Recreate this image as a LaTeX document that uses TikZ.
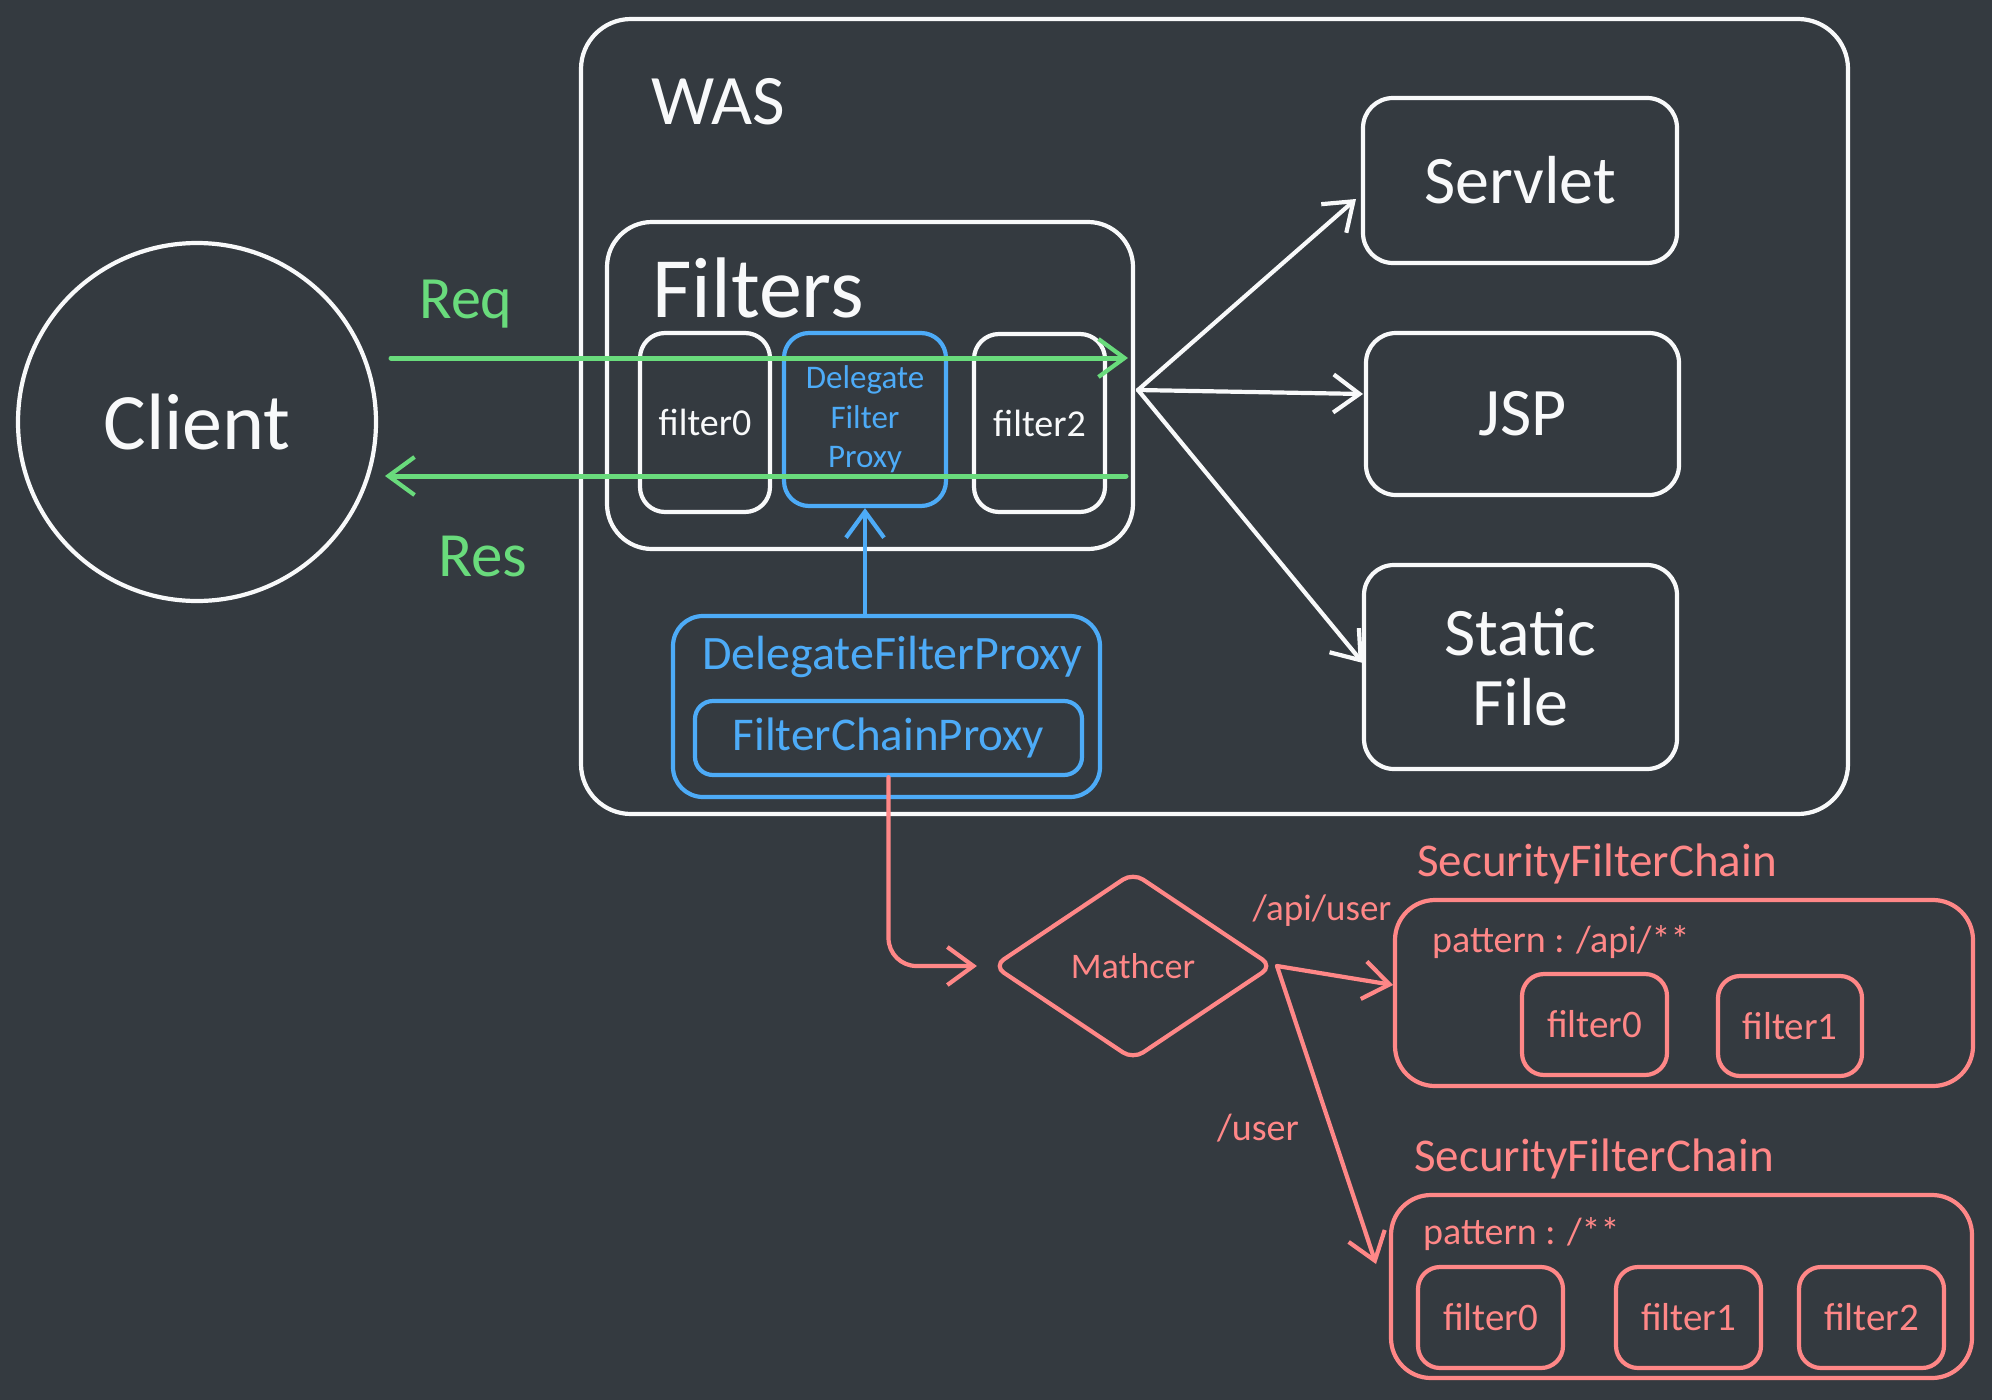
\documentclass[tikz,border=0pt]{standalone}
\usepackage{fontspec}
\setmainfont{Carlito}
\usetikzlibrary{arrows.meta,shapes.geometric,calc}
\definecolor{bgc}{HTML}{343A40}
\definecolor{gr}{HTML}{69DB7C}
\definecolor{bl}{HTML}{4DABF7}
\definecolor{rd}{HTML}{FF8787}
\definecolor{wh}{HTML}{F8F9FA}
\begin{document}
\begin{tikzpicture}[x=1pt,y=-1pt,
  box/.style={draw=#1, line width=4.2pt, rounded corners=28pt, inner sep=0pt, text=#1, align=center},
  lbl/.style={inner sep=0pt, text=#1},
  arr/.style={line width=4.2pt, line cap=round, -{Straight Barb[length=26pt,width=38pt,line width=4.2pt]}},
]
\fill[bgc] (0,0) rectangle (1992,1400);
\useasboundingbox (0,0) rectangle (1992,1400);

% client
\node[circle, draw=wh, line width=4.2pt, minimum size=358pt, inner sep=0pt, text=wh,
  font=\fontsize{80pt}{96pt}\selectfont] (client) at (197,422) {Client};

% WAS
\node[box=wh, rounded corners=50pt, minimum width=1267pt, minimum height=795pt] (was) at (1214.5,416.5) {};
\node[lbl=wh, anchor=west, font=\fontsize{71pt}{85pt}\selectfont] (waslbl) at (651,102) {WAS};

% Filters
\node[box=wh, rounded corners=45pt, minimum width=526pt, minimum height=327pt] (filters) at (870,385.5) {};
\node[lbl=wh, anchor=west, font=\fontsize{86pt}{100pt}\selectfont] (filterslbl) at (652,288) {Filters};
\node[box=wh, rounded corners=25pt, minimum width=130pt, minimum height=179pt,
  font=\fontsize{38pt}{46pt}\selectfont] (f0) at (705,422.5) {filter0};
\node[box=bl, rounded corners=25pt, minimum width=162pt, minimum height=173pt,
  font=\fontsize{33pt}{39.5pt}\selectfont] (dfps) at (865,419.5) {Delegate\\Filter\\Proxy};
\node[box=wh, rounded corners=25pt, minimum width=131pt, minimum height=178pt,
  font=\fontsize{38pt}{46pt}\selectfont] (f2) at (1039.5,423) {filter2};

% targets
\node[box=wh, rounded corners=30pt, minimum width=314pt, minimum height=165pt,
  font=\fontsize{68pt}{70pt}\selectfont] (servlet) at (1520,180.5) {Servlet};
\node[box=wh, rounded corners=30pt, minimum width=313pt, minimum height=162pt,
  font=\fontsize{68pt}{70pt}\selectfont] (jsp) at (1522.5,414) {JSP};
\node[box=wh, rounded corners=30pt, minimum width=313pt, minimum height=204pt,
  font=\fontsize{68pt}{70pt}\selectfont] (static) at (1520.5,667) {Static\\File};

% DelegateFilterProxy
\node[box=bl, rounded corners=30pt, minimum width=427pt, minimum height=181pt] (dfp) at (886.5,706.5) {};
\node[lbl=bl, font=\fontsize{48pt}{58pt}\selectfont] (dfplbl) at (892,657) {DelegateFilterProxy};
\node[box=bl, rounded corners=18pt, minimum width=387pt, minimum height=74pt,
  font=\fontsize{47pt}{56pt}\selectfont] (fcp) at (888.5,738) {FilterChainProxy};

% Matcher
\node[diamond, draw=rd, line width=4.2pt, rounded corners=12pt, minimum width=280pt, minimum height=188pt,
  inner sep=0pt, text=rd, font=\fontsize{36pt}{44pt}\selectfont] (matcher) at (1133,966) {Mathcer};

% Security filter chains
\node[lbl=rd, font=\fontsize{47pt}{56pt}\selectfont] (sfc1lbl) at (1597,864) {SecurityFilterChain};
\node[box=rd, rounded corners=40pt, minimum width=578pt, minimum height=186pt] (sfc1) at (1684,993) {};
\node[lbl=rd, anchor=west, font=\fontsize{38pt}{46pt}\selectfont] (pat1) at (1432,942) {pattern : /api/**};
\node[box=rd, rounded corners=22pt, minimum width=145pt, minimum height=101pt,
  font=\fontsize{39pt}{46pt}\selectfont] (r1f0) at (1594.5,1024.5) {filter0};
\node[box=rd, rounded corners=22pt, minimum width=144pt, minimum height=100pt,
  font=\fontsize{39pt}{46pt}\selectfont] (r1f1) at (1790,1026) {filter1};

\node[lbl=rd, font=\fontsize{47pt}{56pt}\selectfont] (sfc2lbl) at (1594,1159) {SecurityFilterChain};
\node[box=rd, rounded corners=40pt, minimum width=581pt, minimum height=183pt] (sfc2) at (1681.5,1286.5) {};
\node[lbl=rd, anchor=west, font=\fontsize{38pt}{46pt}\selectfont] (pat2) at (1423,1234) {pattern : /**};
\node[box=rd, rounded corners=22pt, minimum width=145pt, minimum height=101pt,
  font=\fontsize{39pt}{46pt}\selectfont] (r2f0) at (1490.5,1317.5) {filter0};
\node[box=rd, rounded corners=22pt, minimum width=145pt, minimum height=101pt,
  font=\fontsize{39pt}{46pt}\selectfont] (r2f1) at (1688.5,1317.5) {filter1};
\node[box=rd, rounded corners=22pt, minimum width=145pt, minimum height=101pt,
  font=\fontsize{39pt}{46pt}\selectfont] (r2f2) at (1871.5,1317.5) {filter2};

% coordinates
\coordinate (reqS) at (391,358);
\coordinate (reqE) at (1128,358);
\coordinate (resS) at (1126,476);
\coordinate (resE) at (385,476);
\coordinate (hub) at (1138,390);
\coordinate (toServ) at (1356,199);
\coordinate (toJsp) at (1363,394);
\coordinate (toStat) at (1363,663);
\coordinate (mOut) at (1277,966);
\coordinate (toS1) at (1393,985);
\coordinate (toS2) at (1376,1264);

% green req/res
\draw[arr, draw=gr, line width=5pt] (reqS) -- (reqE);
\draw[arr, draw=gr, line width=5pt] (resS) -- (resE);
\node[lbl=gr, font=\fontsize{60pt}{70pt}\selectfont] (req) at (466,304) {Req};
\node[lbl=gr, font=\fontsize{63pt}{70pt}\selectfont] (res) at (483,557) {Res};

% white fan-out
\draw[arr, draw=wh] (hub) -- (toServ);
\draw[arr, draw=wh] (hub) -- (toJsp);
\draw[arr, draw=wh] (hub) -- (toStat);

% blue
\draw[arr, draw=bl] (dfps.south |- dfp.north) -- (dfps.south);

% red
\draw[arr, draw=rd, rounded corners=28pt, shorten >=14pt] (fcp.south) |- (matcher.west);
\draw[arr, draw=rd] (mOut) -- (toS1);
\draw[arr, draw=rd] (mOut) -- (toS2);
\node[lbl=rd, font=\fontsize{37pt}{44pt}\selectfont] (apiuser) at (1322,911) {/api/user};
\node[lbl=rd, font=\fontsize{38pt}{44pt}\selectfont] (user) at (1258,1128) {/user};
\end{tikzpicture}
\end{document}
